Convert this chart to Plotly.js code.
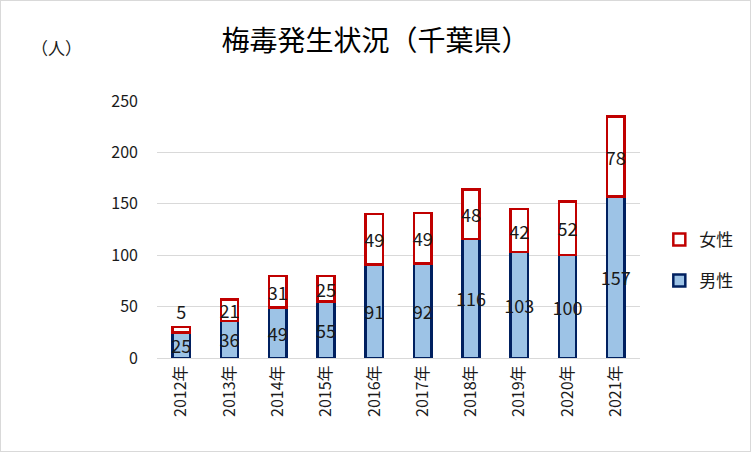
<!DOCTYPE html>
<html><head><meta charset="utf-8">
<script src="https://cdn.plot.ly/plotly-3.0.1.min.js"></script>
<style>
html,body{margin:0;padding:0;background:#fff;}
#chart{width:751px;height:452px;box-sizing:border-box;border:1px solid #d9d9d9;}
</style></head>
<body><div id="chart"></div>
<script>
const years = ["2012年","2013年","2014年","2015年","2016年","2017年","2018年","2019年","2020年","2021年"];
const male = [25,36,49,55,91,92,116,103,100,157];
const female = [5,21,31,25,49,49,48,42,52,78];
const yTicks = [0,50,100,150,200,250];

const font = '"Noto Sans CJK JP", "Noto Sans", sans-serif';
const labelFont = {family: font, size: 18, color: '#1a1a1a'};

const traces = [
  {type:'bar', name:'男性', x:years, y:male, legendgroup:'m', legendrank:2,
   marker:{color:'#9DC3E6', line:{color:'#002060', width:2.5}},
   text:male.map(String), textposition:'inside', insidetextanchor:'middle',
   textangle:0, constraintext:'none', textfont:labelFont, insidetextfont:labelFont,
   hoverinfo:'skip', width:0.36},
  {type:'bar', name:'女性', x:years, y:female, legendgroup:'f', legendrank:1,
   marker:{color:'#FFFFFF', line:{color:'#C00000', width:2.5}},
   text:female.map(String), textposition:female.map(v => v < 10 ? 'outside' : 'inside'),
   insidetextanchor:'middle', cliponaxis:false,
   textangle:0, constraintext:'none', textfont:labelFont, insidetextfont:labelFont, outsidetextfont:labelFont,
   hoverinfo:'skip', width:0.36}
];

const layout = {
  width:749, height:450,
  margin:{l:156, r:110, t:100, b:93},
  paper_bgcolor:'#fff', plot_bgcolor:'#fff',
  barmode:'stack',
  showlegend:true,
  title:{text:'梅毒発生状況（千葉県）', font:{family:font, size:28, color:'#000'}, x:0.5, xanchor:'center', y:0.91, yanchor:'middle'},
  xaxis:{tickangle:-90, tickfont:{family:font, size:16, color:'#1a1a1a'}, showgrid:false,
         showline:true, linecolor:'#d9d9d9', linewidth:1, ticks:'', fixedrange:true},
  yaxis:{range:[0,250], tickvals:yTicks, ticktext:yTicks.map(String), showgrid:true, gridcolor:'#d9d9d9', gridwidth:1,
         zeroline:false, showline:false, ticks:'', ticklabelstandoff:18,
         tickfont:{family:font, size:16, color:'#1a1a1a'}, fixedrange:true},
  legend:{x:1.04, xanchor:'left', y:0.38, yanchor:'middle', traceorder:'grouped', tracegroupgap:16,
          font:{family:font, size:17, color:'#1a1a1a'}, bgcolor:'rgba(0,0,0,0)'},
  annotations:[{text:'（人）', xref:'paper', yref:'paper', x:-0.265, y:1.21, xanchor:'left', yanchor:'middle',
                showarrow:false, font:{family:font, size:17, color:'#1a1a1a'}}]
};
Plotly.newPlot('chart', traces, layout, {displayModeBar:false, staticPlot:true});
</script></body></html>
